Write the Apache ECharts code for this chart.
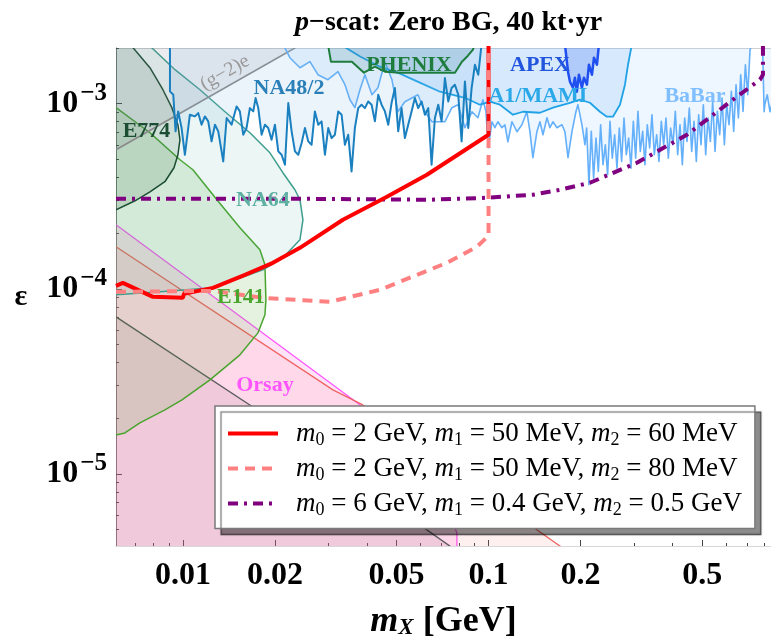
<!DOCTYPE html>
<html><head><meta charset="utf-8">
<script src="https://cdn.jsdelivr.net/npm/echarts@6/dist/echarts.min.js"></script>
<style>html,body{margin:0;padding:0;background:#fff}#c{width:771px;height:637px}</style>
</head><body><div id="c"></div>
<script>
// ---------- axes ----------
const xRange = [0.00604, 0.84];
const yRange = [4.08e-6, 2.0e-3];
const xMajorTicks = [0.01, 0.02, 0.05, 0.1, 0.2, 0.5];
const xMajorLabels = ['0.01', '0.02', '0.05', '0.1', '0.2', '0.5'];
const xMinorTicks = [0.007, 0.008, 0.009, 0.03, 0.04, 0.06, 0.07, 0.08, 0.09, 0.3, 0.4, 0.6, 0.7, 0.8];
const yMajorTicks = [1e-5, 1e-4, 1e-3];
const yMajorExp = ['−5', '−4', '−3'];
const yMinorTicks = [5e-6, 6e-6, 7e-6, 8e-6, 9e-6, 2e-5, 3e-5, 4e-5, 5e-5, 6e-5, 7e-5, 8e-5, 9e-5,
  2e-4, 3e-4, 4e-4, 5e-4, 6e-4, 7e-4, 8e-4, 9e-4, 2e-3];

// ---------- main curves [mX (GeV), epsilon] ----------
const curveM60 = [[0.00604,1.038e-4],[0.00636,1.077e-4],[0.00798,9.05e-5],[0.01,8.94e-5],[0.01008,9.40e-5],
  [0.01254,1.012e-4],[0.01596,1.19e-4],[0.0197,1.382e-4],[0.02415,1.665e-4],[0.03339,2.36e-4],
  [0.04651,3.144e-4],[0.06287,4.132e-4],[0.1,6.80e-4],[0.1,2.1e-3]];
const curveM80 = [[0.00604,9.63e-5],[0.01254,9.75e-5],[0.01827,8.94e-5],[0.03027,8.51e-5],[0.04412,9.88e-5],
  [0.0731,1.382e-4],[0.0916,1.687e-4],[0.1,1.934e-4],[0.1,2.1e-3]];
const curveM6 = [[0.00604,3.066e-4],[0.02415,3.066e-4],[0.06431,3.028e-4],[0.0988,3.105e-4],[0.1397,3.222e-4],
  [0.1712,3.428e-4],[0.2147,3.741e-4],[0.3059,4.798e-4],[0.4459,6.798e-4],[0.6306,1.051e-3],
  [0.773,1.348e-3],[0.7906,1.435e-3],[0.7906,2.1e-3]];
const legendNames = ['m0 = 2 GeV, m1 = 50 MeV, m2 = 60 MeV', 'm0 = 2 GeV, m1 = 50 MeV, m2 = 80 MeV',
  'm0 = 6 GeV, m1 = 0.4 GeV, m2 = 0.5 GeV'];
const legendRichText = [
  '{g| }{i|m}{s|0}{t| = 2 GeV, }{i|m}{s|1}{t| = 50 MeV, }{i|m}{s|2}{t| = 60 MeV}',
  '{g| }{i|m}{s|0}{t| = 2 GeV, }{i|m}{s|1}{t| = 50 MeV, }{i|m}{s|2}{t| = 80 MeV}',
  '{g| }{i|m}{s|0}{t| = 6 GeV, }{i|m}{s|1}{t| = 0.4 GeV, }{i|m}{s|2}{t| = 0.5 GeV}'];

// ---------- excluded regions (boundaries) ----------
const orsay = [[0.00604,2.22e-4],[0.0388,2.30e-5],[0.0643,1.19e-5],[0.0788,4.80e-6],[0.0788,3.9e-6]];
const salmonLine = [[0.00604,1.687e-4],[0.03096,2.844e-5],[0.0388,2.36e-5],[0.1473,4.86e-6],[0.178,3.9e-6]];
const grayLine = [[0.00604,7.06e-5],[0.01694,2.30e-5],[0.0776,3.9e-6]];
const e141 = [[0.00604,9.52e-4],[0.0078,6.97e-4],[0.00978,4.98e-4],[0.01078,4.40e-4],[0.01292,3.03e-4],
  [0.01537,2.14e-4],[0.01786,1.624e-4],[0.01855,1.348e-4],[0.01869,8.72e-5],[0.01855,7.24e-5],
  [0.0176,5.78e-5],[0.01537,4.40e-5],[0.01226,3.22e-5],[0.00993,2.51e-5],[0.00873,2.22e-5],
  [0.00723,1.886e-5],[0.00646,1.665e-5],[0.00604,1.624e-5]];
const na64 = [[0.00768,2.1e-3],[0.00942,1.527e-3],[0.01137,1.19e-3],[0.01373,9.05e-4],[0.01657,6.97e-4],
  [0.01926,5.43e-4],[0.02124,4.24e-4],[0.02325,3.43e-4],[0.02415,3.03e-4],[0.0247,2.36e-4],
  [0.02415,1.84e-4],[0.02124,1.471e-4],[0.01827,1.267e-4],[0.01254,1.012e-4],[0.00841,9.63e-5],
  [0.00604,9.28e-5]];
const e774 = [[0.00671,2.1e-3],[0.0078,1.565e-3],[0.0086,1.19e-3],[0.0092,9.52e-4],[0.00963,7.70e-4],
  [0.00978,6.39e-4],[0.00963,5.30e-4],[0.00935,4.51e-4],[0.00873,3.79e-4],[0.0078,3.34e-4],
  [0.00697,2.99e-4],[0.00604,2.67e-4]];
const gm2 = [[0.00604,5.64e-4],[0.024,2.06e-3]];
const na48 = [[0.00907,2.1e-3],[0.00907,1.166e-3],[0.0093,1.118e-3],[0.00946,7.09e-4],[0.00965,9.09e-4],
  [0.0099,7.39e-4],[0.01015,5.30e-4],[0.01054,8.72e-4],[0.01095,8.54e-4],[0.01122,8.90e-4],[0.01151,7.70e-4],
  [0.0118,8.54e-4],[0.0121,8.03e-4],[0.01241,6.26e-4],[0.01273,7.70e-4],[0.01305,7.09e-4],[0.01355,4.88e-4],
  [0.0139,8.37e-4],[0.01443,7.70e-4],[0.01498,9.67e-4],[0.01536,9.09e-4],[0.01575,6.80e-4],[0.01615,7.39e-4],
  [0.01656,9.47e-4],[0.01699,9.09e-4],[0.01729,1.073e-3],[0.01764,9.47e-4],[0.01809,6.80e-4],[0.01855,7.70e-4],
  [0.01902,7.39e-4],[0.0195,6.39e-4],[0.02,7.70e-4],[0.02051,5.53e-4],[0.02103,5.30e-4],[0.02157,4.68e-4],
  [0.02212,1.008e-3],[0.02268,7.09e-4],[0.02326,5.53e-4],[0.02385,5.30e-4],[0.02446,6.13e-4],[0.02508,7.39e-4],
  [0.02571,6.26e-4],[0.02636,6.0e-4],[0.02703,9.09e-4],[0.02772,7.70e-4],[0.02843,8.03e-4],[0.02915,5.30e-4],
  [0.02989,7.39e-4],[0.03065,6.52e-4],[0.03143,6.80e-4],[0.03223,9.09e-4],[0.03305,8.72e-4],[0.03389,6.0e-4],
  [0.03475,6.80e-4],[0.03563,4.31e-4],[0.03653,7.39e-4],[0.03746,9.47e-4],[0.03841,9.88e-4],[0.0394,9.47e-4],
  [0.0404,1.029e-3],[0.04143,9.88e-4],[0.04248,8.03e-4],[0.04356,1.118e-3],[0.04467,9.88e-4],[0.04581,9.09e-4],
  [0.04697,7.70e-4],[0.04816,1.008e-3],[0.04939,1.215e-3],[0.05064,7.09e-4],[0.05193,9.47e-4],[0.05325,6.52e-4],
  [0.0546,7.70e-4],[0.056,9.09e-4],[0.05742,1.073e-3],[0.05888,9.47e-4],[0.06039,1.029e-3],[0.06192,8.72e-4],
  [0.0635,9.47e-4],[0.06511,4.68e-4],[0.06677,8.37e-4],[0.06847,9.88e-4],[0.07021,8.03e-4],[0.07199,1.376e-3],
  [0.07382,1.029e-3],[0.0757,1.215e-3],[0.07762,1.267e-3],[0.0796,1.118e-3],[0.08164,6.26e-4],[0.08371,1.32e-3],
  [0.08585,7.39e-4],[0.08803,1.215e-3],[0.09027,1.624e-3],[0.09256,1.434e-3],[0.0949,2.1e-3]];
const lightBlue = [[0.02124,2.1e-3],[0.02239,1.772e-3],[0.02415,1.565e-3],[0.02604,1.687e-3],[0.02766,1.435e-3],
  [0.02982,1.348e-3],[0.03216,1.489e-3],[0.0339,1.267e-3],[0.0352,1.051e-3],[0.03654,9.52e-4],[0.03795,1.19e-3],
  [0.0394,1.435e-3],[0.04155,1.118e-3],[0.04347,1.22e-3],[0.04581,1.687e-3],[0.0483,1.348e-3],[0.05052,9.05e-4],
  [0.05325,1.025e-3],[0.05875,1.118e-3],[0.06193,9.05e-4],[0.06527,7.99e-4],[0.07199,7.99e-4],[0.07589,9.52e-4],
  [0.07941,9.88e-4],[0.08373,7.42e-4],[0.08825,9.05e-4],[0.09233,8.40e-4],[0.09587,1.051e-3],[0.09806,9.05e-4],
  [0.0999,5.79e-4],[0.1026,7.99e-4],[0.1049,7.42e-4],[0.1073,7.99e-4],[0.1106,7.42e-4],[0.1131,7.70e-4],
  [0.1157,6.23e-4],[0.1193,7.99e-4],[0.1239,7.06e-4],[0.1286,7.70e-4],[0.1335,9.05e-4],[0.1366,7.06e-4],
  [0.1397,5.11e-4],[0.144,7.06e-4],[0.1473,7.99e-4],[0.1507,6.80e-4],[0.1553,8.40e-4],[0.1588,7.42e-4],
  [0.1625,7.99e-4],[0.1674,7.42e-4],[0.1739,7.70e-4],[0.1778,7.06e-4],[0.182,5.11e-4],[0.1875,7.06e-4],
  [0.1932,9.05e-4],[0.1961,9.88e-4],[0.2021,7.70e-4],[0.2068,6.0e-4],
  [0.2094,7.39e-4],[0.2131,3.65e-4],[0.2169,7.09e-4],[0.2207,3.96e-4],[0.2247,6.52e-4],[0.2287,4.31e-4],
  [0.2327,7.70e-4],[0.2369,4.68e-4],[0.2411,6.00e-4],[0.2453,4.13e-4],[0.2497,8.03e-4],[0.2541,5.08e-4],
  [0.2586,6.80e-4],[0.2632,4.49e-4],[0.2679,7.39e-4],[0.2726,4.88e-4],[0.2775,8.37e-4],[0.2824,5.30e-4],
  [0.2874,6.52e-4],[0.2925,4.49e-4],[0.2977,8.03e-4],[0.303,5.08e-4],[0.3083,9.09e-4],[0.3138,5.53e-4],
  [0.3194,7.09e-4],[0.325,4.68e-4],[0.3308,7.70e-4],[0.3367,5.76e-4],[0.3426,8.72e-4],[0.3487,5.30e-4],
  [0.3549,6.80e-4],[0.3612,4.88e-4],[0.3676,8.03e-4],[0.3741,6.00e-4],[0.3808,8.37e-4],[0.3875,5.08e-4],
  [0.3944,7.39e-4],[0.4014,6.00e-4],[0.4085,9.09e-4],[0.4158,5.30e-4],[0.4232,7.70e-4],[0.4307,4.68e-4],
  [0.4383,8.37e-4],[0.4461,6.26e-4],[0.454,9.47e-4],[0.4621,5.53e-4],[0.4703,8.03e-4],[0.4786,4.88e-4],
  [0.4871,8.72e-4],[0.4958,6.00e-4],[0.5046,9.88e-4],[0.5135,5.30e-4],[0.5227,8.37e-4],[0.5319,6.26e-4],
  [0.5414,1.029e-3],[0.551,5.53e-4],[0.5608,9.09e-4],[0.5707,6.80e-4],[0.5809,1.073e-3],[0.5912,6.00e-4],
  [0.6016,9.88e-4],[0.6123,7.70e-4],[0.6232,1.166e-3],[0.6342,7.09e-4],[0.6455,1.267e-3],[0.657,8.37e-4],
  [0.6686,1.434e-3],[0.6805,9.09e-4],[0.6926,1.624e-3],[0.7049,1.118e-3],[0.7174,1.96e-3],[0.7301,2.1e-3]];
const babarEdge = [[0.788,2.1e-3],[0.7975,9.05e-4],[0.8026,1.0e-3],[0.8168,1.118e-3],[0.8333,9.05e-4],[0.846,1.0e-3]];
const a1mami = [[0.0326,2.1e-3],[0.038,1.80e-3],[0.0441,1.585e-3],[0.0513,1.453e-3],[0.0596,1.299e-3],
  [0.0694,1.161e-3],[0.0837,1.077e-3],[0.0937,9.88e-4],[0.1011,1.025e-3],[0.109,9.88e-4],[0.1202,8.72e-4],
  [0.1296,9.05e-4],[0.1473,8.94e-4],[0.1625,9.52e-4],[0.1847,1.012e-3],[0.1991,1.051e-3],[0.2147,1.012e-3],
  [0.2315,9.05e-4],[0.244,8.51e-4],[0.2553,8.51e-4],[0.2692,9.88e-4],[0.2795,1.267e-3],[0.286,1.624e-3],[0.2946,2.1e-3]];
const phenix = [[0.02982,2.1e-3],[0.0305,1.687e-3],[0.03573,1.687e-3],[0.03912,1.471e-3],[0.04249,1.585e-3],
  [0.04581,1.489e-3],[0.0513,1.471e-3],[0.07764,1.471e-3],[0.08183,1.687e-3],[0.08562,1.817e-3],
  [0.08892,1.958e-3],[0.09025,2.1e-3]];
const apex = [[0.1778,2.1e-3],[0.182,1.489e-3],[0.1847,1.315e-3],[0.1889,1.22e-3],[0.1917,1.382e-3],
  [0.1946,1.161e-3],[0.1976,1.435e-3],[0.2021,1.22e-3],[0.2052,1.382e-3],[0.2099,1.267e-3],[0.2131,1.624e-3],
  [0.218,1.435e-3],[0.2213,1.772e-3],[0.2264,1.624e-3],[0.2298,2.1e-3]];

// ---------- region labels ----------
const labelTexts = ['(g−2)e', 'NA48/2', 'E774', 'NA64', 'E141', 'Orsay', 'PHENIX', 'APEX', 'A1/MAMI', 'BaBar'];
const labelX = [0.01373, 0.02223, 0.0076, 0.01827, 0.01548, 0.01855, 0.0549, 0.1473, 0.1451, 0.4736];
const labelY = [1.47e-3, 1.205e-3, 7.06e-4, 2.99e-4, 9.05e-5, 3.03e-5, 1.604e-3, 1.604e-3, 1.091e-3, 1.091e-3];
const labelColors = ['#9a9a9a', '#2a7fb8', '#1b4d33', '#5fb0a2', '#4aa52e', '#ff55ff', '#1e7d3c', '#2255dd', '#2aa8e8', '#80bfff'];

const L = Math.log10;
const XL = 0.0059, YT = 2.1e-3, YB = 3.9e-6;
const SERIF = '"Liberation Serif","Times New Roman",serif';

const regions = [
  {pts: orsay, close: [[XL, YB], [XL, 2.22e-4]], fill: 'rgba(255,110,215,0.19)', stroke: '#ff55ff', lw: 1.3},
  {pts: salmonLine, close: [[XL, YB], [XL, 1.687e-4]], fill: 'rgba(255,130,130,0.12)', stroke: '#f06464', lw: 1.3},
  {pts: grayLine, close: [[XL, YB], [XL, 7.06e-5]], fill: 'rgba(90,60,80,0.09)', stroke: '#5a5a5a', lw: 1.4},
  {pts: e141, close: [[XL, 1.6e-5], [XL, 9.52e-4]], fill: 'rgba(80,170,50,0.15)', stroke: '#4aa52e', lw: 1.5},
  {pts: na64, close: [[XL, 9.28e-5], [XL, YT]], fill: 'rgba(70,170,150,0.10)', stroke: '#3e9e8e', lw: 1.5},
  {pts: e774, close: [[XL, 2.67e-4], [XL, YT]], fill: 'rgba(30,90,50,0.14)', stroke: '#1b4d33', lw: 1.5},
  {pts: gm2, close: [[0.024, YT], [XL, YT], [XL, 5.64e-4]], fill: 'rgba(130,130,150,0.15)', stroke: '#8a8a8a', lw: 1.6},
  {pts: lightBlue, close: [], fill: 'rgba(150,200,255,0.16)', stroke: '#64b0fa', lw: 1.6},
  {pts: babarEdge, close: [[0.846, YT]], fill: 'rgba(150,200,255,0.16)', stroke: '#64b0fa', lw: 1.6},
  {pts: a1mami, close: [], fill: 'rgba(110,180,245,0.18)', stroke: '#1fa3e6', lw: 1.8},
  {pts: na48, close: [], fill: 'rgba(120,180,230,0.14)', stroke: '#1a80c0', lw: 2},
  {pts: phenix, close: [], fill: 'rgba(40,120,130,0.16)', stroke: '#1e7d3c', lw: 2},
  {pts: apex, close: [], fill: 'rgba(40,90,240,0.22)', stroke: '#1f4fef', lw: 2.5}
];

function regionSeries(reg) {
  return {
    type: 'custom', coordinateSystem: 'cartesian2d', clip: true, silent: true, z: 1,
    data: [[L(0.05), -4]],
    renderItem: function (params, api) {
      const line = reg.pts.map(p => api.coord([L(p[0]), L(p[1])]));
      const poly = line.concat(reg.close.map(p => api.coord([L(p[0]), L(p[1])])));
      return {type: 'group', children: [
        {type: 'polygon', shape: {points: poly}, style: {fill: reg.fill}},
        {type: 'polyline', shape: {points: line}, style: {stroke: reg.stroke, lineWidth: reg.lw, fill: null, lineJoin: 'round'}}
      ]};
    }
  };
}

function lineSeries(name, pts, color, type, width) {
  return {
    name: name, type: 'line', data: pts.map(p => [L(p[0]), L(p[1])]), symbol: 'none', z: 3,
    clip: true, lineStyle: {color: color, width: width, type: type}, itemStyle: {color: color}, silent: true
  };
}

const labelSeries = {
  type: 'custom', coordinateSystem: 'cartesian2d', z: 4, silent: true,
  data: labelTexts.map((t, i) => [L(labelX[i]), L(labelY[i])]),
  renderItem: function (params, api) {
    const i = params.dataIndex;
    const pt = api.coord([api.value(0), api.value(1)]);
    const isG = i === 0;
    return {
      type: 'text', x: pt[0], y: pt[1], rotation: isG ? 0.52 : 0,
      style: {
        text: labelTexts[i], x: 0, y: 0, fill: labelColors[i],
        font: (isG ? 'normal ' : 'bold ') + (isG ? '20px ' : '22px ') + SERIF,
        align: 'center', verticalAlign: 'middle', textAlign: 'center', textVerticalAlign: 'middle'
      }
    };
  }
};

function nearestIdx(arr, v) {
  let best = 0, bd = 1e9;
  arr.forEach((a, i) => { const d = Math.abs(L(a) - v); if (d < bd) { bd = d; best = i; } });
  return best;
}

const xBase = {type: 'value', min: L(xRange[0]), max: L(xRange[1]), splitLine: {show: false}, gridIndex: 0};
const yBase = {type: 'value', min: L(yRange[0]), max: L(yRange[1]), splitLine: {show: false}, gridIndex: 0};

const option = {
  animation: false,
  backgroundColor: '#fff',
  title: {
    text: '{i|p}{b|−scat: Zero BG, 40 kt·yr}', left: 290, top: 4,
    textStyle: {rich: {
      i: {fontFamily: SERIF, fontSize: 28, fontWeight: 'bold', fontStyle: 'italic', color: '#000'},
      b: {fontFamily: SERIF, fontSize: 28, fontWeight: 'bold', color: '#000'}
    }}
  },
  grid: {left: 116, right: 0, top: 48, bottom: 91, containLabel: false, outerBoundsMode: 'none'},
  xAxis: [
    Object.assign({}, xBase, {
      position: 'bottom',
      axisLine: {show: true, onZero: false, lineStyle: {color: '#d8d8d8', width: 1}},
      axisTick: {show: true, inside: true, length: 6, customValues: xMajorTicks.map(L), lineStyle: {color: '#444'}},
      axisLabel: {customValues: xMajorTicks.map(L), margin: 14, formatter: v => xMajorLabels[nearestIdx(xMajorTicks, v)],
        fontFamily: SERIF, fontSize: 32, fontWeight: 'bold', color: '#000'},
      name: '{m|m}{x|X}{b| [GeV]}', nameLocation: 'middle', nameGap: 58,
      nameTextStyle: {rich: {
        m: {fontFamily: SERIF, fontSize: 36, fontWeight: 'bold', fontStyle: 'italic', color: '#000'},
        x: {fontFamily: SERIF, fontSize: 23, fontWeight: 'bold', fontStyle: 'italic', color: '#000', verticalAlign: 'bottom', lineHeight: 26},
        b: {fontFamily: SERIF, fontSize: 36, fontWeight: 'bold', color: '#000'}
      }}
    }),
    Object.assign({}, xBase, {
      position: 'bottom', axisLine: {show: false, onZero: false},
      axisTick: {show: true, inside: true, length: 3, customValues: xMinorTicks.map(L), lineStyle: {color: '#444'}},
      axisLabel: {show: false}
    }),
    Object.assign({}, xBase, {
      position: 'top', axisLine: {show: true, onZero: false, lineStyle: {color: '#d0d0d0'}},
      axisTick: {show: false}, axisLabel: {show: false}
    })
  ],
  yAxis: [
    Object.assign({}, yBase, {
      position: 'left',
      axisLine: {show: true, onZero: false, lineStyle: {color: '#777', width: 1}},
      axisTick: {show: true, inside: true, length: 6, customValues: yMajorTicks.map(L), lineStyle: {color: '#444'}},
      axisLabel: {customValues: yMajorTicks.map(L), margin: 9,
        formatter: v => '{b|10}{s|' + yMajorExp[nearestIdx(yMajorTicks, v)] + '}',
        rich: {
          b: {fontFamily: SERIF, fontSize: 32, fontWeight: 'bold', color: '#000', lineHeight: 46},
          s: {fontFamily: SERIF, fontSize: 25, fontWeight: 'bold', color: '#000', verticalAlign: 'top', lineHeight: 26, padding: [0, 0, 0, 2]}
        }},
      name: 'ε', nameLocation: 'middle', nameRotate: 0, nameGap: 95,
      nameTextStyle: {fontFamily: SERIF, fontSize: 30, fontWeight: 'bold', color: '#000', align: 'center', verticalAlign: 'middle'}
    }),
    Object.assign({}, yBase, {
      position: 'left', axisLine: {show: false, onZero: false},
      axisTick: {show: true, inside: true, length: 3, customValues: yMinorTicks.map(L), lineStyle: {color: '#444'}},
      axisLabel: {show: false}
    })
  ],
  legend: {
    data: legendNames, orient: 'vertical', left: 215, top: 406,
    padding: [14, 13, 9, 11], itemGap: 5.5, itemWidth: 50, itemHeight: 14,
    backgroundColor: '#fff', borderColor: '#7a7a7a', borderWidth: 1.5,
    shadowColor: 'rgba(0,0,0,0.45)', shadowBlur: 1, shadowOffsetX: 6, shadowOffsetY: 6,
    itemStyle: {opacity: 0},
    lineStyle: {width: 4},
    formatter: name => legendRichText[legendNames.indexOf(name)],
    textStyle: {rich: {
      g: {width: 13, fontSize: 10, lineHeight: 32},
      t: {fontFamily: SERIF, fontSize: 27, color: '#000', lineHeight: 32},
      i: {fontFamily: SERIF, fontSize: 27, fontStyle: 'italic', color: '#000', lineHeight: 32},
      s: {fontFamily: SERIF, fontSize: 18, color: '#000', lineHeight: 18, verticalAlign: 'bottom'}
    }}
  },
  series: regions.map(regionSeries).concat([
    lineSeries(legendNames[2], curveM6, '#800080', [10, 6, 3, 6], 4),
    lineSeries(legendNames[0], curveM60, '#ff0000', 'solid', 4),
    lineSeries(legendNames[1], curveM80, '#ff8080', [10, 7], 4),
    labelSeries
  ])
};

const chart = echarts.init(document.getElementById('c'), null, {renderer: 'canvas'});
chart.setOption(option);
</script>
</body></html>
